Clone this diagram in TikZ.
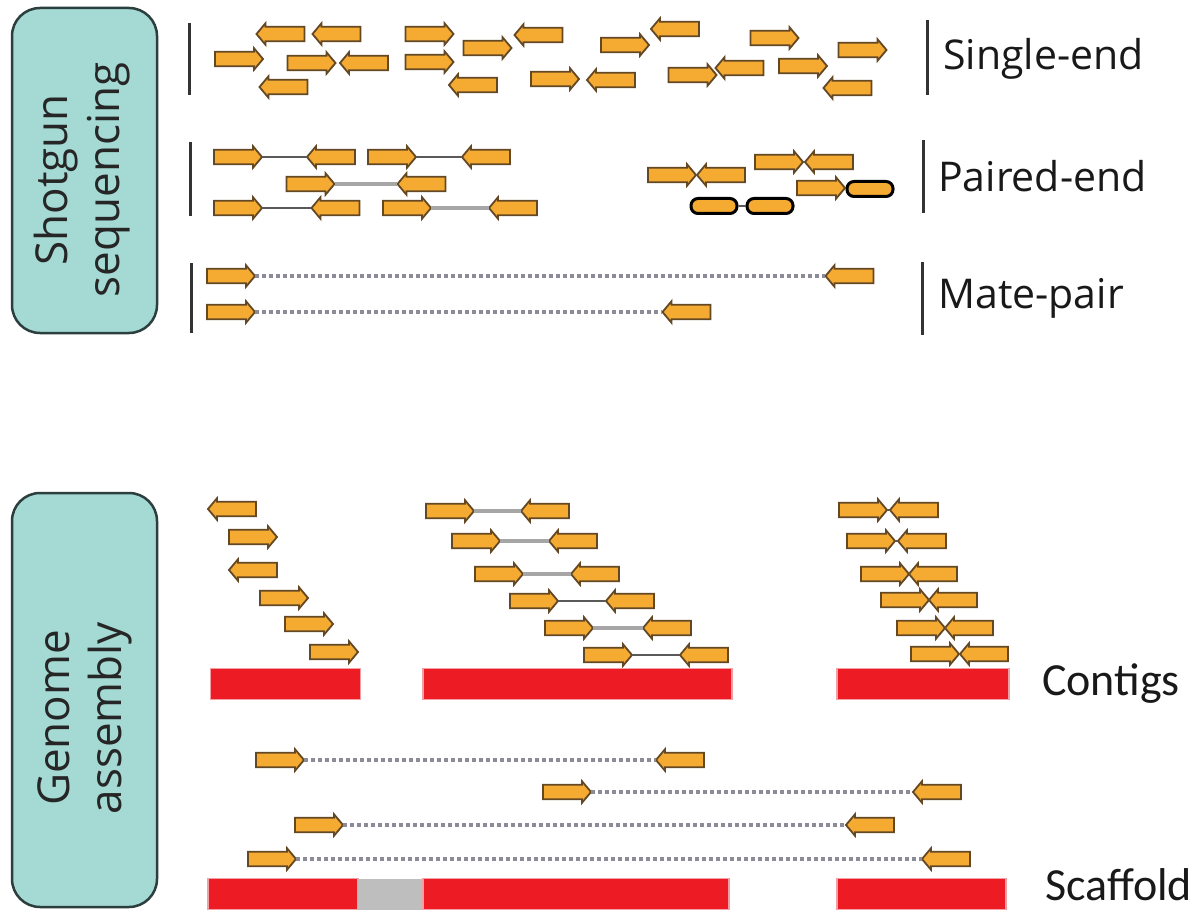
\documentclass[tikz,border=0pt]{standalone}
\usepackage{fontspec}
\setmainfont{Open Sans}
\newfontfamily\calfont{Carlito}
\usetikzlibrary{shapes.arrows,shapes.geometric}
\definecolor{rdfill}{RGB}{245,170,50}
\definecolor{rdline}{RGB}{100,72,35}
\definecolor{boxfill}{RGB}{164,217,212}
\definecolor{boxline}{RGB}{45,62,62}
\definecolor{ctg}{RGB}{237,28,36}
\definecolor{ctgedge}{RGB}{242,160,165}
\definecolor{gapgray}{RGB}{190,190,190}
\definecolor{dotc}{RGB}{140,140,152}
\begin{document}
\begin{tikzpicture}[x=1pt,y=-1pt,
  rd/.style={single arrow, draw=rdline, fill=rdfill, line width=1.8pt, minimum height=48pt, minimum width=0pt, inner xsep=0pt, inner ysep=6.3pt, single arrow head extend=3.5pt, single arrow tip angle=100, outer sep=0pt},
  rr/.style={rd},
  rl/.style={rd, shape border rotate=180},
  ell/.style={rectangle, rounded corners=7pt, draw=black, line width=3pt, fill=rdfill, minimum width=46pt, minimum height=15pt, inner sep=0pt},
  box/.style={draw=boxline, fill=boxfill, line width=2.5pt, rounded corners=28pt, inner sep=0pt},
  boxtext/.style={align=center, font=\fontsize{44}{52}\selectfont, text=black!85, inner sep=0pt},
  lab/.style={font=\fontsize{41}{49}\selectfont, inner sep=0pt, anchor=base west, text=black!90},
  clab/.style={font=\calfont\fontsize{46}{54}\selectfont, inner sep=0pt, anchor=base west, text=black!90},
  darkpair/.style={draw=black!65, line width=2.5pt},
  lightpair/.style={draw=black!35, line width=4pt},
  matel/.style={draw=dotc, line width=4.5pt, dash pattern=on 4pt off 3pt},
  vbar/.style={draw=black!80, line width=3pt},
  ctgbar/.style={fill=ctg, draw=ctgedge, line width=1.5pt, minimum height=31pt, inner sep=0pt},
  gapbar/.style={fill=gapgray, draw=none, minimum height=31pt, inner sep=0pt}
]
\useasboundingbox (0,0) rectangle (1202,912);
\fill[white] (0,0) rectangle (1202,912);

% ---------- side boxes
\node[box, minimum width=145pt, minimum height=325pt] (b1) at (84.5,170.5) {};
\node[boxtext, rotate=90] (t1) at (82,180) {Shotgun\\sequencing};
\node[box, minimum width=145pt, minimum height=414pt] (b2) at (84.5,700) {};
\node[boxtext, rotate=90] (t2) at (85,718) {Genome\\assembly};

% ---------- labels
\draw[vbar] (189,23) -- (189,95);
\draw[vbar] (927,20) -- (927,95);
\node[lab] (lse) at (943,70) {Single-end};
\draw[vbar] (190,142) -- (190,216);
\draw[vbar] (923,140) -- (923,213);
\node[lab] (lpe) at (938,192) {Paired-end};
\draw[vbar] (191,263) -- (191,333);
\draw[vbar] (922,262) -- (922,335);
\node[lab] (lmp) at (938,308) {Mate-pair};

% ---------- single-end reads
\node[rl] (s1) at (283.5,34) {};
\node[rl] (s2) at (339.5,34) {};
\node[rr] (s3) at (426.5,34) {};
\node[rr] (s4) at (484.5,48) {};
\node[rl] (s5) at (541.5,35) {};
\node[rr] (s6) at (622,45) {};
\node[rl] (s7) at (678,29) {};
\node[rr] (s8) at (771.5,38) {};
\node[rr] (s9) at (859.5,50) {};
\node[rr] (s10) at (236,59) {};
\node[rr] (s11) at (308.5,63) {};
\node[rl] (s12) at (367,63) {};
\node[rr] (s13) at (426.5,62) {};
\node[rl] (s14) at (476,85) {};
\node[rr] (s15) at (552,79) {};
\node[rl] (s16) at (614,80) {};
\node[rr] (s17) at (689.5,75) {};
\node[rl] (s18) at (742.5,68) {};
\node[rr] (s19) at (800,66) {};
\node[rl] (s20) at (850.5,88) {};
\node[rl] (s21) at (286.5,87) {};

% ---------- paired-end reads
\node[rr] (pA1) at (235,157) {};
\node[rl] (pA2) at (334,157) {};
\node[rr] (pA3) at (389,157) {};
\node[rl] (pA4) at (489,157) {};
\node[rr] (pB1) at (307.5,184) {};
\node[rl] (pB2) at (424.5,184) {};
\node[rr] (pC1) at (235,208) {};
\node[rl] (pC2) at (338.5,208) {};
\node[rr] (pC3) at (404,208) {};
\node[rl] (pC4) at (516,208) {};
\draw[darkpair] (pA1.tip) -- (pA2.tip);
\draw[darkpair] (pA3.tip) -- (pA4.tip);
\draw[lightpair] (pB1.tip) -- (pB2.tip);
\draw[darkpair] (pC1.tip) -- (pC2.tip);
\draw[lightpair] (pC3.tip) -- (pC4.tip);

\node[rr] (pD1) at (669,175) {};
\node[rl] (pD2) at (724,175) {};
\node[rr] (pE1) at (776,162) {};
\node[rl] (pE2) at (832,162) {};
\node[ell] (pF1) at (714,206) {};
\node[ell] (pF2) at (770,206) {};
\node[rr] (pF3) at (818,188) {};
\node[ell] (pF4) at (870,189) {};
\draw[darkpair] (pD1.tip) -- (pD2.tip);
\draw[darkpair] (pE1.tip) -- (pE2.tip);
\draw[darkpair] (pF1) -- (pF2);
\draw[darkpair] (pF3.tip) -- (pF4);

% ---------- mate-pair reads
\node[rr] (m1a) at (228,276) {};
\node[rl] (m1b) at (852.5,276) {};
\node[rr] (m2a) at (228,312) {};
\node[rl] (m2b) at (689.5,312) {};
\draw[matel] (m1a.tip) -- (m1b.tip);
\draw[matel] (m2a.tip) -- (m2b.tip);

% ---------- genome assembly: left contig
\node[rl] (g1) at (235,509) {};
\node[rr] (g2) at (250,537) {};
\node[rl] (g3) at (256,570) {};
\node[rr] (g4) at (281,598) {};
\node[rr] (g5) at (306,624) {};
\node[rr] (g6) at (331,652) {};
\node[ctgbar, minimum width=150pt] (c1) at (285.5,684) {};

% middle contig
\node[rr] (h1a) at (447,511) {};  \node[rl] (h1b) at (548,511) {};
\node[rr] (h2a) at (473,541) {};  \node[rl] (h2b) at (576,541) {};
\node[rr] (h3a) at (496,574) {};  \node[rl] (h3b) at (598,574) {};
\node[rr] (h4a) at (531,601) {};  \node[rl] (h4b) at (633,601) {};
\node[rr] (h5a) at (566,628) {};  \node[rl] (h5b) at (670,628) {};
\node[rr] (h6a) at (605,655) {};  \node[rl] (h6b) at (707,655) {};
\draw[lightpair] (h1a.tip) -- (h1b.tip);
\draw[lightpair] (h2a.tip) -- (h2b.tip);
\draw[lightpair] (h3a.tip) -- (h3b.tip);
\draw[darkpair] (h4a.tip) -- (h4b.tip);
\draw[lightpair] (h5a.tip) -- (h5b.tip);
\draw[darkpair] (h6a.tip) -- (h6b.tip);
\node[ctgbar, minimum width=309pt] (c2) at (577.5,684) {};

% right contig
\node[rr] (k1a) at (860,510) {};  \node[rl] (k1b) at (917,510) {};
\node[rr] (k2a) at (868,541) {};  \node[rl] (k2b) at (925,541) {};
\node[rr] (k3a) at (882,574) {};  \node[rl] (k3b) at (936,574) {};
\node[rr] (k4a) at (902,600) {};  \node[rl] (k4b) at (956,600) {};
\node[rr] (k5a) at (918,628) {};  \node[rl] (k5b) at (972,628) {};
\node[rr] (k6a) at (932,654) {};  \node[rl] (k6b) at (987,654) {};
\draw[darkpair] (k1a.tip) -- (k1b.tip);
\draw[darkpair] (k2a.tip) -- (k2b.tip);
\draw[darkpair] (k3a.tip) -- (k3b.tip);
\draw[darkpair] (k4a.tip) -- (k4b.tip);
\draw[darkpair] (k5a.tip) -- (k5b.tip);
\draw[darkpair] (k6a.tip) -- (k6b.tip);
\node[ctgbar, minimum width=172pt] (c3) at (923,684) {};
\node[clab] (lct) at (1042,695) {Contigs};

% ---------- scaffold
\node[rr] (q1a) at (277,760) {};  \node[rl] (q1b) at (683,760) {};
\node[rr] (q2a) at (564,792) {};  \node[rl] (q2b) at (940,792) {};
\node[rr] (q3a) at (316,825) {};  \node[rl] (q3b) at (873,825) {};
\node[rr] (q4a) at (269,859) {};  \node[rl] (q4b) at (949,859) {};
\draw[matel] (q1a.tip) -- (q1b.tip);
\draw[matel] (q2a.tip) -- (q2b.tip);
\draw[matel] (q3a.tip) -- (q3b.tip);
\draw[matel] (q4a.tip) -- (q4b.tip);
\node[ctgbar, minimum width=150pt] (d1) at (283,894) {};
\node[gapbar, minimum width=65pt] (d2) at (390.5,894) {};
\node[ctgbar, minimum width=306pt] (d3) at (576,894) {};
\node[ctgbar, minimum width=169pt] (d4) at (921.5,894) {};
\node[clab] (lsc) at (1045,900) {Scaffold};
\end{tikzpicture}
\end{document}
